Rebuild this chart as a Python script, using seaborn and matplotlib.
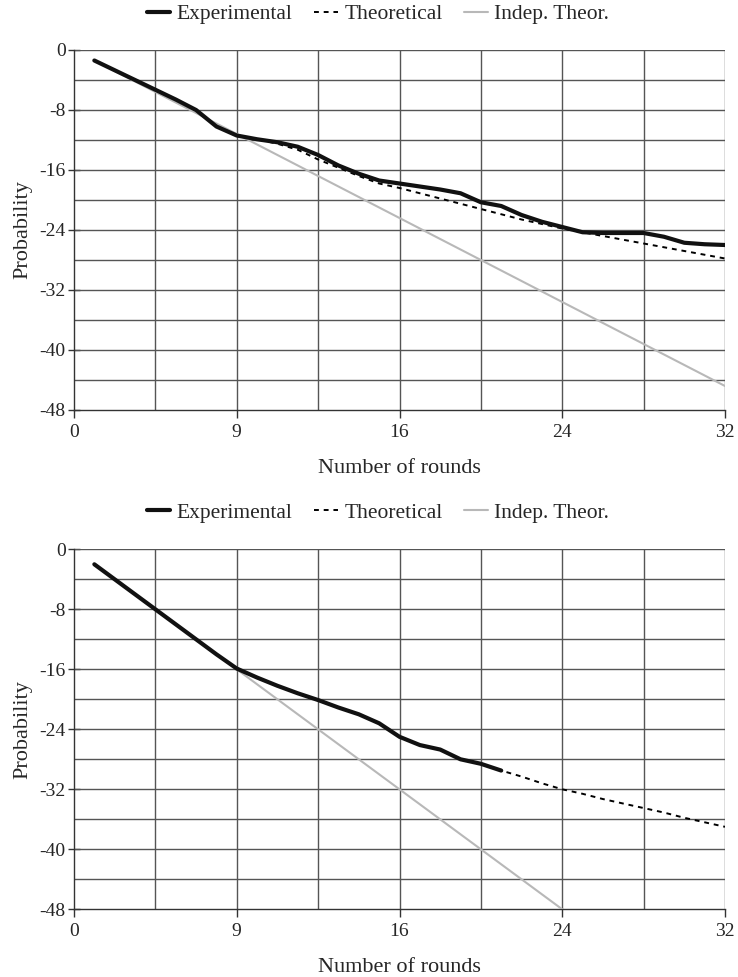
import matplotlib
matplotlib.use("Agg")
import matplotlib.pyplot as plt
import seaborn as sns
import pandas as pd

# ---- data ----
rounds_top = list(range(1, 33))
exp_top = [-1.4, -2.7, -4.0, -5.3, -6.6, -8.0, -10.2, -11.4, -11.9, -12.3, -12.9, -14.0,
           -15.4, -16.5, -17.4, -17.8, -18.2, -18.6, -19.1, -20.3, -20.8, -22.0, -22.9, -23.6,
           -24.3, -24.4, -24.4, -24.4, -24.9, -25.7, -25.9, -26.0]
theo_top = [-1.4, -2.7, -4.0, -5.3, -6.6, -8.0, -10.2, -11.4, -11.9, -12.5, -13.3, -14.6,
            -15.7, -16.8, -17.8, -18.4, -19.1, -19.8, -20.5, -21.2, -21.9, -22.6, -23.2, -23.8,
            -24.3, -24.8, -25.3, -25.8, -26.3, -26.8, -27.3, -27.8]
indep_top = [-1.4, -2.8, -4.2, -5.6, -7.0, -8.4, -9.8, -11.2, -12.6, -14.0, -15.4, -16.8,
             -18.2, -19.6, -21.0, -22.4, -23.8, -25.2, -26.6, -28.0, -29.4, -30.8, -32.2, -33.6,
             -35.0, -36.4, -37.8, -39.2, -40.6, -42.0, -43.4, -44.8]

rounds_exp_bot = list(range(1, 22))
exp_bot = [-2.0, -4.0, -6.0, -8.0, -10.0, -12.0, -14.0, -15.9, -17.1, -18.2, -19.2, -20.1,
           -21.1, -22.0, -23.2, -25.0, -26.1, -26.7, -28.0, -28.6, -29.5]
rounds_theo_bot = list(range(1, 33))
theo_bot = [-2.0, -4.0, -6.0, -8.0, -10.0, -12.0, -14.0, -15.9, -17.1, -18.2, -19.2, -20.1,
            -21.1, -22.0, -23.2, -25.0, -26.1, -26.7, -28.0, -28.6, -29.5, -30.3, -31.2, -32.0,
            -32.6, -33.3, -33.9, -34.5, -35.1, -35.8, -36.4, -37.0]
rounds_indep_bot = list(range(1, 25))
indep_bot = [-2, -4, -6, -8, -10, -12, -14, -16, -18, -20, -22, -24,
             -26, -28, -30, -32, -34, -36, -38, -40, -42, -44, -46, -48]

xtick_pos = [0, 8, 16, 24, 32]
xtick_labels = ["0", "9", "16", "24", "32"]
ytick_pos = [0, -8, -16, -24, -32, -40, -48]
ytick_labels = ["0", "-8", "-16", "-24", "-32", "-40", "-48"]

sns.set_style("white")
plt.rcParams['font.family'] = ['Liberation Serif', 'DejaVu Serif']

fig = plt.figure(figsize=(7.38, 9.77), dpi=100)
ax1 = fig.add_axes([74/738, 1-410/977, 651/738, 360/977])
ax2 = fig.add_axes([74/738, 1-909.3/977, 651/738, 360/977])


def draw(ax, rx_e, e, rx_t, t, rx_i, i):
    sns.lineplot(x=rx_i, y=i, ax=ax, color="#b8b8b8", lw=1.5, label="Indep. Theor.", zorder=3)
    sns.lineplot(x=rx_t, y=t, ax=ax, color="black", lw=1.4, linestyle=(0, (2.5, 2.5)),
                 label="Theoretical", zorder=4)
    sns.lineplot(x=rx_e, y=e, ax=ax, color="#111111", lw=3.0, label="Experimental", zorder=5)
    ax.set_xlim(0, 32)
    ax.set_ylim(-48, 0)
    for v in range(4, 33, 4):
        ax.axvline(v, color="#555555", lw=1.0, zorder=1)
    for v in range(-44, 1, 4):
        ax.axhline(v, color="#555555", lw=1.0, zorder=1)
    ax.set_xticks(xtick_pos)
    ax.set_xticklabels(xtick_labels)
    ax.set_yticks(ytick_pos)
    ax.set_yticklabels(ytick_labels)
    ax.tick_params(axis="y", direction="inout", length=8, width=1, color="#333333",
                   labelsize=14, pad=2, left=True)
    ax.tick_params(axis="x", direction="out", length=6, width=1, color="#333333",
                   labelsize=14, pad=4, bottom=True)
    for s in ["top", "right"]:
        ax.spines[s].set_visible(False)
    for s in ["left", "bottom"]:
        ax.spines[s].set_color("#333333")
        ax.spines[s].set_linewidth(1.0)
    ax.set_xlabel("Number of rounds", fontsize=16, labelpad=13)
    ax.set_ylabel("Probability", fontsize=16, labelpad=5)
    h, l = ax.get_legend_handles_labels()
    ax.get_legend().remove()
    return h[::-1], l[::-1]


leg_kw = dict(loc="center", ncol=3, frameon=False, fontsize=15.5, handlelength=1.1,
              handletextpad=0.3, columnspacing=1.0)
h, l = draw(ax1, rounds_top, exp_top, rounds_top, theo_top, rounds_top, indep_top)
fig.legend(h, l, bbox_to_anchor=(0.512, 1-14/977), **leg_kw)
h, l = draw(ax2, rounds_exp_bot, exp_bot, rounds_theo_bot, theo_bot, rounds_indep_bot, indep_bot)
fig.legend(h, l, bbox_to_anchor=(0.512, 1-513/977), **leg_kw)

fig.savefig("out.png", dpi=100)
